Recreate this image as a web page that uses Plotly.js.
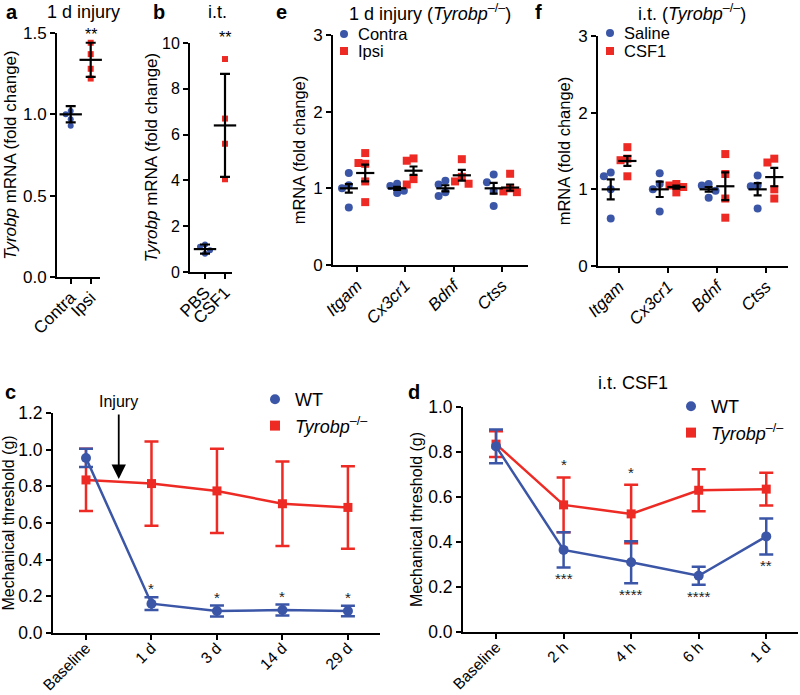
<!DOCTYPE html>
<html><head><meta charset="utf-8">
<script src="https://cdn.plot.ly/plotly-3.0.1.min.js"></script>
<style>html,body{margin:0;padding:0;background:#fff}#chart{width:800px;height:695px}</style>
</head><body><div id="chart"></div>
<script>
// ---------- data ----------
// panel a
const aCats = ['Contra', 'Ipsi'];
const aContra = [1.02, 1.0, 0.97, 0.93];
const aIpsi = [1.44, 1.37, 1.28, 1.22];
const aMean = [1.0, 1.335];
const aErr = [0.05, 0.105];
// panel b
const bCats = ['PBS', 'CSF1'];
const bPBS = [1.2, 1.1, 0.95, 0.8];
const bCSF1 = [9.3, 6.7, 5.6, 4.05];
const bMean = [1.0, 6.4];
const bErr = [0.2, 2.25];
// panel e
const eGenes = ['Itgam', 'Cx3cr1', 'Bdnf', 'Ctss'];
const eSeries = ['Contra', 'Ipsi'];
const eContra = [[1.2, 1.04, 1.0, 0.75], [1.06, 1.03, 0.97, 0.94], [1.1, 1.05, 0.95, 0.9], [1.18, 1.08, 0.97, 0.77]];
const eIpsi = [[1.46, 1.32, 1.33, 1.09, 0.82], [1.39, 1.36, 1.12, 1.05], [1.38, 1.15, 1.09, 1.06], [1.19, 1.0, 0.96, 0.95]];
const eContraMean = [1.0, 1.0, 1.0, 1.0];
const eContraErr = [0.055, 0.02, 0.04, 0.07];
const eIpsiMean = [1.2, 1.23, 1.17, 1.01];
const eIpsiErr = [0.11, 0.055, 0.07, 0.04];
// panel f
const fGenes = ['Itgam', 'Cx3cr1', 'Bdnf', 'Ctss'];
const fSeries = ['Saline', 'CSF1'];
const fSaline = [[1.22, 1.17, 1.0, 0.62], [1.21, 1.07, 1.0, 0.71], [1.07, 1.05, 0.98, 0.89], [1.18, 1.05, 1.04, 0.75]];
const fCSF1 = [[1.55, 1.4, 1.38, 1.17], [1.07, 1.05, 1.03, 0.96], [1.46, 1.2, 0.88, 0.63], [1.4, 1.35, 1.0, 0.88]];
const fSalineMean = [1.0, 1.0, 1.0, 1.0];
const fSalineErr = [0.13, 0.1, 0.03, 0.08];
const fCSF1Mean = [1.37, 1.03, 1.04, 1.16];
const fCSF1Err = [0.065, 0.02, 0.18, 0.12];
// panel c
const cTimes = ['Baseline', '1 d', '3 d', '14 d', '29 d'];
const cWT = [0.955, 0.16, 0.12, 0.125, 0.12];
const cWTErr = [0.05, 0.035, 0.03, 0.03, 0.028];
const cKO = [0.835, 0.815, 0.775, 0.705, 0.685];
const cKOErr = [0.17, 0.23, 0.23, 0.23, 0.225];
const cWTStars = ['', '*', '*', '*', '*'];
// panel d
const dTimes = ['Baseline', '2 h', '4 h', '6 h', '1 d'];
const dWT = [0.825, 0.365, 0.31, 0.25, 0.425];
const dWTErr = [0.075, 0.078, 0.093, 0.04, 0.08];
const dKO = [0.835, 0.565, 0.525, 0.63, 0.635];
const dKOErr = [0.057, 0.122, 0.13, 0.093, 0.073];
const dKOStars = ['', '*', '*', '', ''];
const dWTStars = ['', '***', '****', '****', '**'];

// ---------- helpers ----------
const W = 800, H = 695;
const px = x => x / W;
const py = y => 1 - y / H;
const BLUE = '#3B56A7', RED = '#ED2A24';
const FONT = '"Liberation Sans", Arial, Helvetica, sans-serif';
const KO = '<i>Tyrobp</i><sup>–/–</sup>';

function swarm(vals, step, thr) {
  const placed = [], out = [];
  vals.forEach(v => {
    for (const c of [0, -1, 1, -2, 2]) {
      if (!placed.some(p => p.c === c && Math.abs(p.v - v) < thr)) {
        placed.push({c, v}); out.push(c * step); break;
      }
    }
  });
  return out;
}

const traces = [];
function dots(groups, catIdx, offset, step, thr, color, symbol, size, xa, ya, name) {
  const xs = [], ys = [];
  groups.forEach((g, k) => {
    const offs = swarm(g, step, thr);
    g.forEach((v, j) => { xs.push(catIdx[k] + offset + offs[j]); ys.push(v); });
  });
  traces.push({type: 'scatter', mode: 'markers', x: xs, y: ys, xaxis: xa, yaxis: ya, name: name || '',
    showlegend: false, marker: {color: color, symbol: symbol, size: size, line: {width: 0}}, cliponaxis: false});
}
function meanBars(xs, means, errs, xa, ya, lineSize, capW) {
  traces.push({type: 'scatter', mode: 'markers', x: xs, y: means, xaxis: xa, yaxis: ya, showlegend: false,
    marker: {symbol: 'line-ew', size: lineSize, color: 'black', line: {color: 'black', width: 2.2}},
    error_y: {type: 'data', array: errs, visible: true, color: 'black', thickness: 2.2, width: capW}, cliponaxis: false});
}

// panel a (x, y)
dots([aContra], [0], 0, 0.25, 0.03, BLUE, 'circle', 6, 'x', 'y', 'Contra');
dots([aIpsi], [1], 0, 0.25, 0.03, RED, 'square', 6, 'x', 'y', 'Ipsi');
meanBars([0, 1], aMean, aErr, 'x', 'y', 16, 5);
// panel b (x2, y2)
dots([bPBS], [0], 0, 0.25, 0.3, BLUE, 'circle', 6, 'x2', 'y2', 'PBS');
dots([bCSF1], [1], 0, 0.25, 0.3, RED, 'square', 6, 'x2', 'y2', 'CSF1');
meanBars([0, 1], bMean, bErr, 'x2', 'y2', 16, 5);
// panel e (x3, y3)
const eIdx = eGenes.map((g, i) => i);
dots(eContra, eIdx, -0.17, 0.14, 0.1, BLUE, 'circle', 8, 'x3', 'y3', eSeries[0]);
dots(eIpsi, eIdx, 0.17, 0.14, 0.1, RED, 'square', 8, 'x3', 'y3', eSeries[1]);
meanBars(eIdx.map(i => i - 0.17), eContraMean, eContraErr, 'x3', 'y3', 13, 4);
meanBars(eIdx.map(i => i + 0.17), eIpsiMean, eIpsiErr, 'x3', 'y3', 13, 4);
// panel f (x4, y4)
const fIdx = fGenes.map((g, i) => i);
dots(fSaline, fIdx, -0.17, 0.14, 0.1, BLUE, 'circle', 8, 'x4', 'y4', fSeries[0]);
dots(fCSF1, fIdx, 0.17, 0.14, 0.1, RED, 'square', 8, 'x4', 'y4', fSeries[1]);
meanBars(fIdx.map(i => i - 0.17), fSalineMean, fSalineErr, 'x4', 'y4', 13, 4);
meanBars(fIdx.map(i => i + 0.17), fCSF1Mean, fCSF1Err, 'x4', 'y4', 13, 4);

// panels c, d
function series(cats, vals, errs, color, symbol, size, xa, ya, name) {
  traces.push({type: 'scatter', mode: 'lines+markers', x: cats.map((c, i) => i), y: vals, xaxis: xa, yaxis: ya,
    name: name, showlegend: false, line: {color: color, width: 2.5},
    marker: {color: color, symbol: symbol, size: size},
    error_y: {type: 'data', array: errs, visible: true, color: color, thickness: 2.5, width: 7}, cliponaxis: false});
}
function legendOnly(name, color, symbol, size, legend) {
  traces.push({type: 'scatter', mode: 'markers', x: [null], y: [null], xaxis: 'x5', yaxis: 'y5', name: name,
    legend: legend, showlegend: true, marker: {color: color, symbol: symbol, size: size}});
}
series(cTimes, cKO, cKOErr, RED, 'square', 9, 'x5', 'y5', KO);
series(cTimes, cWT, cWTErr, BLUE, 'circle', 10, 'x5', 'y5', 'WT');
series(dTimes, dKO, dKOErr, RED, 'square', 9, 'x6', 'y6', KO);
series(dTimes, dWT, dWTErr, BLUE, 'circle', 10, 'x6', 'y6', 'WT');
legendOnly('WT', BLUE, 'circle', 10, 'legend');
legendOnly(KO, RED, 'square', 10, 'legend');
legendOnly('WT', BLUE, 'circle', 10, 'legend2');
legendOnly(KO, RED, 'square', 10, 'legend2');

// ---------- axes ----------
function xAx(d0, d1, r0, r1, labels, anchor, fs, stand) {
  return {domain: [px(d0), px(d1)], range: [r0, r1], anchor: anchor,
    tickmode: 'array', tickvals: labels.map((l, i) => i), ticktext: labels, tickangle: -45,
    ticklabelstandoff: stand,
    showline: true, linewidth: 2, linecolor: 'black', ticks: 'outside', ticklen: 5, tickwidth: 2, tickcolor: 'black',
    showgrid: false, zeroline: false, tickfont: {size: fs, color: 'black'}, fixedrange: true, automargin: false};
}
function yAx(top, bottom, r1, dtick, fmt, anchor, fs, title, tfs, standoff) {
  return {domain: [py(bottom), py(top)], range: [0, r1], anchor: anchor, dtick: dtick, tick0: 0, tickformat: fmt,
    showline: true, linewidth: 2, linecolor: 'black', ticks: 'outside', ticklen: 5, tickwidth: 2, tickcolor: 'black',
    showgrid: false, zeroline: false, tickfont: {size: fs, color: 'black'}, fixedrange: true, automargin: false,
    title: {text: title, font: {size: tfs, color: 'black'}, standoff: standoff}};
}
const ital = l => '<i>' + l + '</i>';

const layout = {
  width: W, height: H, margin: {l: 0, r: 0, t: 0, b: 0},
  paper_bgcolor: 'white', plot_bgcolor: 'rgba(0,0,0,0)',
  font: {family: FONT, color: 'black'},
  xaxis: xAx(57, 100, -0.685, 1.465, aCats, 'y', 17, -3),
  yaxis: yAx(33, 277, 1.5, 0.5, '.1f', 'x', 17, '<i>Tyrobp</i> mRNA (fold change)', 17, 2),
  xaxis2: xAx(190, 232, -0.75, 1.35, bCats, 'y2', 17, -3),
  yaxis2: yAx(43, 272, 10, 2, 'd', 'x2', 16, '<i>Tyrobp</i> mRNA (fold change)', 17, 0),
  xaxis3: xAx(333, 528, -0.497, 3.54, eGenes.map(ital), 'y3', 17, -3),
  yaxis3: yAx(35, 265, 3, 1, 'd', 'x3', 17, 'mRNA (fold change)', 16.5, 3),
  xaxis4: xAx(598, 788, -0.43, 3.45, fGenes.map(ital), 'y4', 17, -3),
  yaxis4: yAx(36, 266, 3, 1, 'd', 'x4', 17, 'mRNA (fold change)', 16.5, 3),
  xaxis5: xAx(53, 380, -0.504, 4.49, cTimes, 'y5', 15.5, -7),
  yaxis5: yAx(413, 633, 1.2, 0.2, '.1f', 'x5', 17.5, 'Mechanical threshold (g)', 16, 2),
  xaxis6: xAx(463, 798, -0.489, 4.47, dTimes, 'y6', 15.5, -7),
  yaxis6: yAx(407, 632, 1.0, 0.2, '.1f', 'x6', 17.5, 'Mechanical threshold (g)', 16, 2),
  legend: {x: px(255), y: py(381), xanchor: 'left', yanchor: 'top', font: {size: 18}, bgcolor: 'rgba(0,0,0,0)', tracegroupgap: 0, itemclick: false},
  legend2: {x: px(671), y: py(388), xanchor: 'left', yanchor: 'top', font: {size: 18}, bgcolor: 'rgba(0,0,0,0)', tracegroupgap: 0, itemclick: false},
  annotations: [],
  shapes: [],
  showlegend: true
};

const ann = layout.annotations;
function paperText(text, x, y, size, xanchor, bold) {
  ann.push({xref: 'paper', yref: 'paper', x: px(x), y: py(y), text: bold ? '<b>' + text + '</b>' : text,
    showarrow: false, xanchor: xanchor || 'center', yanchor: 'middle', font: {size: size, color: 'black'}});
}
paperText('a', 4, 12, 20, 'left', true);
paperText('1 d injury', 83, 12, 18);
paperText('b', 151, 12, 20, 'left', true);
paperText('i.t.', 217, 12, 18);
paperText('e', 274, 12, 20, 'left', true);
paperText('1 d injury (' + KO + ')', 430, 12, 18);
paperText('f', 533, 12, 20, 'left', true);
paperText('i.t. (' + KO + ')', 692, 12, 18);
paperText('c', 3, 392, 20, 'left', true);
paperText('d', 406, 392, 20, 'left', true);
paperText('i.t. CSF1', 633, 383, 18);

// manual legends for panels e and f (marker key + label)
function key(cx, cy, color, type, label) {
  layout.shapes.push({type: type === 'circle' ? 'circle' : 'rect', xref: 'paper', yref: 'paper',
    x0: px(cx - 4), x1: px(cx + 4), y0: py(cy + 4), y1: py(cy - 4), fillcolor: color, line: {width: 0}});
  paperText(label, cx + 12, cy, 16.5, 'left');
}
key(344, 34, BLUE, 'circle', eSeries[0]);
key(344, 51, RED, 'rect', eSeries[1]);
key(610, 33, BLUE, 'circle', fSeries[0]);
key(610, 51, RED, 'rect', fSeries[1]);

// significance stars
ann.push({xref: 'x', yref: 'y', x: 1, y: aMean[1] + aErr[1], text: '**', showarrow: false, yanchor: 'bottom', yshift: -2, font: {size: 16}});
ann.push({xref: 'x2', yref: 'y2', x: 1, y: 10, text: '**', showarrow: false, yanchor: 'bottom', yshift: -5, font: {size: 16}});
cWTStars.forEach((s, i) => { if (s) ann.push({xref: 'x5', yref: 'y5', x: i, y: cWT[i] + cWTErr[i], text: s, showarrow: false, yanchor: 'bottom', yshift: -2, font: {size: 15, color: '#222'}}); });
dKOStars.forEach((s, i) => { if (s) ann.push({xref: 'x6', yref: 'y6', x: i, y: dKO[i] + dKOErr[i], text: s, showarrow: false, yanchor: 'bottom', yshift: 2, font: {size: 15, color: '#222'}}); });
dWTStars.forEach((s, i) => { if (s) ann.push({xref: 'x6', yref: 'y6', x: i, y: dWT[i] - dWTErr[i], text: s, showarrow: false, yanchor: 'top', yshift: -1, font: {size: 15, color: '#222'}}); });
// injury arrow
ann.push({xref: 'x5', yref: 'y5', x: 0.5, y: 0.84, axref: 'x5', ayref: 'y5', ax: 0.5, ay: 1.2, text: '',
  showarrow: true, arrowhead: 2, arrowsize: 1.6, arrowwidth: 1.8, arrowcolor: 'black'});
ann.push({xref: 'x5', yref: 'y5', x: 0.5, y: 1.2, text: 'Injury', showarrow: false, yanchor: 'bottom', yshift: 1, font: {size: 16}});

Plotly.newPlot('chart', traces, layout, {displayModeBar: false, staticPlot: true});
</script>
</body></html>
